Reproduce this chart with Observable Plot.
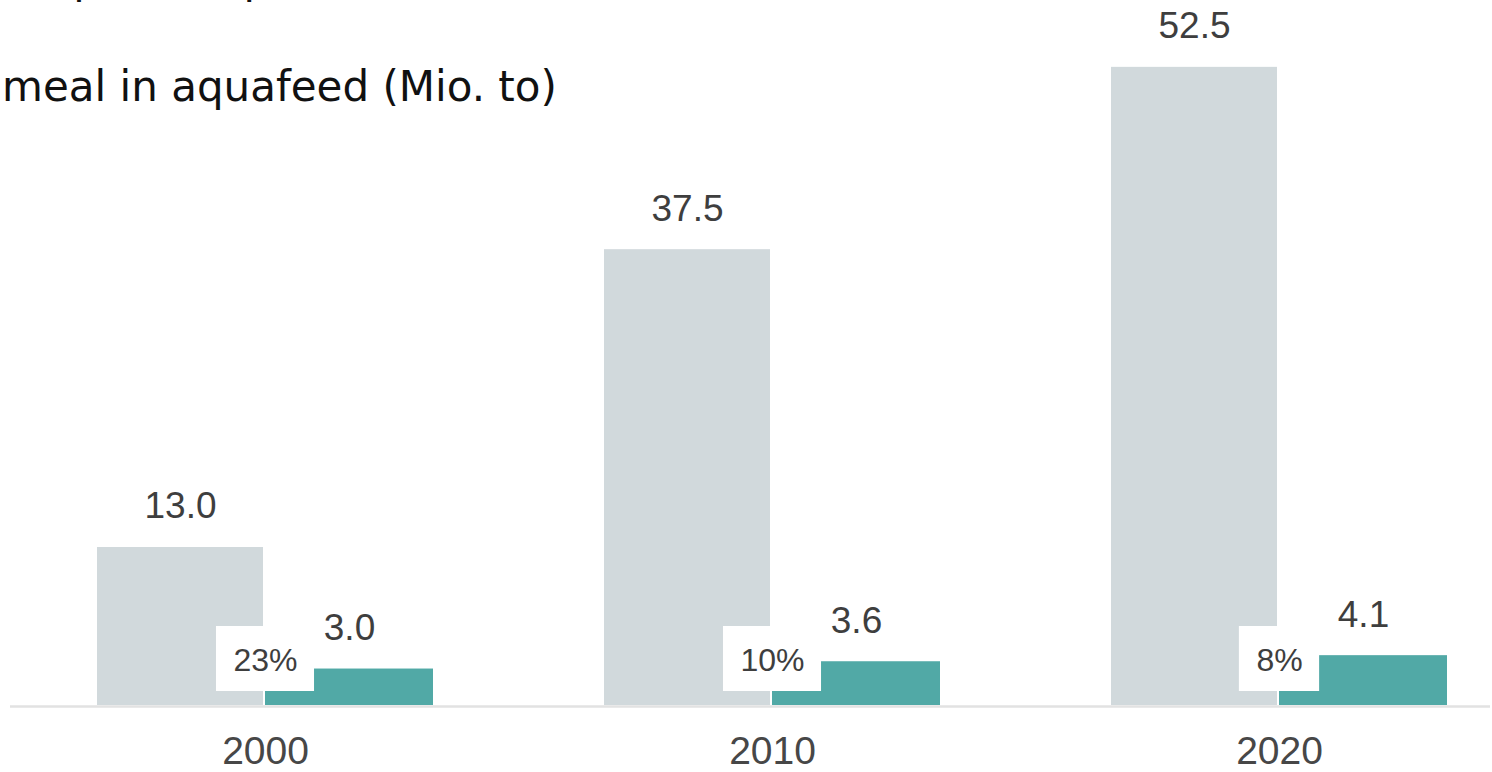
<!DOCTYPE html>
<html>
<head>
<meta charset="utf-8">
<script src="https://cdn.jsdelivr.net/npm/d3@7"></script>
<script src="https://cdn.jsdelivr.net/npm/@observablehq/plot@0.6"></script>
<style>
  html, body { margin: 0; padding: 0; background: #ffffff; }
  #wrap { position: relative; width: 1492px; height: 772px; overflow: hidden; }
  .leg { position: absolute; white-space: nowrap; font-family: "DejaVu Sans", Verdana, sans-serif; font-size: 42px; color: #111; line-height: 1; }
  #chart { position: absolute; left: 0; top: 0; }
</style>
</head>
<body>
<div id="wrap">
  <div id="chart"></div>
  <div class="leg" id="leg1">Total aquafeed production (Mio. to)</div>
  <div class="leg" id="leg2">Fishmeal in aquafeed (Mio. to)</div>
</div>
<script>
// ---- data ----
const years = ["2000", "2010", "2020"];
const aquafeedTotal = [13.0, 37.5, 52.5];
const fishmealInFeed = [3.0, 3.6, 4.1];
const fishmealShare = ["23%", "10%", "8%"];

const rows = years.map((year, i) => ({
  year,
  total: aquafeedTotal[i],
  fish: fishmealInFeed[i],
  share: fishmealShare[i]
}));

const GRAY = "#d1d9dc";
const TEAL = "#51a9a6";
const TXT = "#3e3e3e";
const FONT = "'Liberation Sans', Arial, sans-serif";

// legend text positions (cropped at left/top as in reference)
const leg2 = document.getElementById("leg2");
const leg1 = document.getElementById("leg1");
const mctx = document.createElement("canvas").getContext("2d");
mctx.font = "42px 'DejaVu Sans'";
const fishW = mctx.measureText("Fish").width;
leg2.style.left = (-fishW + 2) + "px";
leg2.style.top = "66px";
leg1.style.left = (-fishW + 2) + "px";
leg1.style.top = "-42px";

const pctFont = 32;
mctx.font = pctFont + "px 'Liberation Sans'";

const boxes = (index, scales) => {
  const g = d3.create("svg:g");
  const x = scales.x, y = scales.y;
  const bw = typeof x.bandwidth === "function" ? x.bandwidth() : x.bandwidth;
  rows.forEach(d => {
    const cx = x(d.year) + bw / 2;
    const w = mctx.measureText(d.share).width + 34;
    g.append("rect")
      .attr("x", cx - w / 2)
      .attr("y", y(0) - 79)
      .attr("width", w)
      .attr("height", 65)
      .attr("fill", "#ffffff");
  });
  return g.node();
};

const chart = Plot.plot({
  width: 1492,
  height: 772,
  marginTop: 0,
  marginBottom: 67,
  marginLeft: 10,
  marginRight: 2,
  style: { fontFamily: FONT, fontSize: "39px", color: "#474747", background: "transparent" },
  x: {
    type: "band",
    domain: years,
    paddingInner: 0.337,
    paddingOuter: 0.128,
    align: 0.669,
    tickSize: 0,
    tickPadding: 31,
    label: null
  },
  y: { domain: [0, 58], axis: null },
  marks: [
    Plot.barY(rows, { x: "year", y: "total", fill: GRAY, insetRight: 170 }),
    Plot.barY(rows, { x: "year", y: "fish", fill: TEAL, insetLeft: 168 }),
    Plot.ruleY([0], { stroke: "#e2e2e2", strokeWidth: 2.5, dy: 1 }),
    boxes,
    Plot.text(rows, { x: "year", y: 0, dy: -45, text: "share", fontSize: pctFont, fill: TXT, fontFamily: FONT }),
    Plot.text(rows, { x: "year", y: "total", dx: -85, dy: -41, text: d => d.total.toFixed(1), fontSize: 37, fill: TXT, fontFamily: FONT }),
    Plot.text(rows, { x: "year", y: "fish", dx: 84, dy: -41, text: d => d.fish.toFixed(1), fontSize: 37, fill: TXT, fontFamily: FONT })
  ]
});
document.getElementById("chart").appendChild(chart);
</script>
</body>
</html>
